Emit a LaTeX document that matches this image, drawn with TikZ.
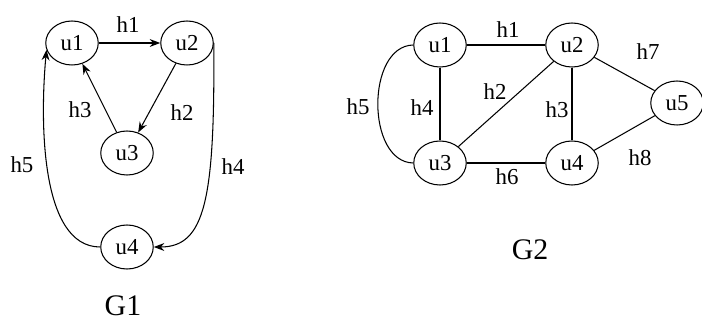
\documentclass[tikz,border=0pt]{standalone}
\usepackage{fontspec}
\setmainfont{Liberation Serif}
\usetikzlibrary{shapes.geometric,arrows.meta}
\begin{document}
\begin{tikzpicture}[x=0.02cm, y=-0.02cm, line width=0.6pt,
        vtx/.style={ellipse, draw, minimum width=1.05cm, minimum height=0.88cm, inner sep=0pt, font=\fontsize{13}{15}\selectfont},
        lbl/.style={inner sep=1pt, font=\fontsize{13}{15}\selectfont},
        >={Stealth[length=6pt, width=4.5pt]}]
        \useasboundingbox (0,0) rectangle (702,320);
        % G1
        \node[vtx] (a1) at (72, 43) {u1};
        \node[vtx] (a2) at (187, 43) {u2};
        \node[vtx] (a3) at (127, 153) {u3};
        \node[vtx] (a4) at (127, 247) {u4};
        \draw[->] (a1) -- (a2);
        \draw[->] (a2) -- (a3);
        \draw[->] (a3) -- (a1);
        \draw[->] (a2.east) .. controls (215,200) and (205,247) .. (a4.east);
        \draw[->] (a4.west) .. controls (40,247) and (40,120) .. (a1.195);
        \node[lbl] (ah1) at (128, 25) {h1};
        \node[lbl] (ah2) at (182, 113) {h2};
        \node[lbl] (ah3) at (80, 110) {h3};
        \node[lbl] (ah4) at (233, 167) {h4};
        \node[lbl] (ah5) at (22, 165) {h5};
        \node[lbl, font=\fontsize{17}{19}\selectfont] (g1) at (123, 306) {G1};
        % G2
        \node[vtx] (b1) at (440, 45) {u1};
        \node[vtx] (b2) at (572, 45) {u2};
        \node[vtx] (b3) at (440, 163) {u3};
        \node[vtx] (b4) at (572, 163) {u4};
        \node[vtx] (b5) at (677, 103) {u5};
        \draw (b1) -- (b2);
        \draw (b2) -- (b3);
        \draw (b2) -- (b4);
        \draw (b1) -- (b3);
        \draw (b3) -- (b4);
        \draw (b2) -- (b5);
        \draw (b4) -- (b5);
        \draw (b1.west) .. controls (366,46) and (366,162) .. (b3.west);
        \node[lbl] (bh1) at (508, 30) {h1};
        \node[lbl] (bh2) at (495, 92) {h2};
        \node[lbl] (bh3) at (557, 110) {h3};
        \node[lbl] (bh4) at (422, 108) {h4};
        \node[lbl] (bh5) at (358, 107) {h5};
        \node[lbl] (bh6) at (507, 177) {h6};
        \node[lbl] (bh7) at (648, 52) {h7};
        \node[lbl] (bh8) at (640, 158) {h8};
        \node[lbl, font=\fontsize{17}{19}\selectfont] (g2) at (530, 250) {G2};
    \end{tikzpicture}
\end{document}
